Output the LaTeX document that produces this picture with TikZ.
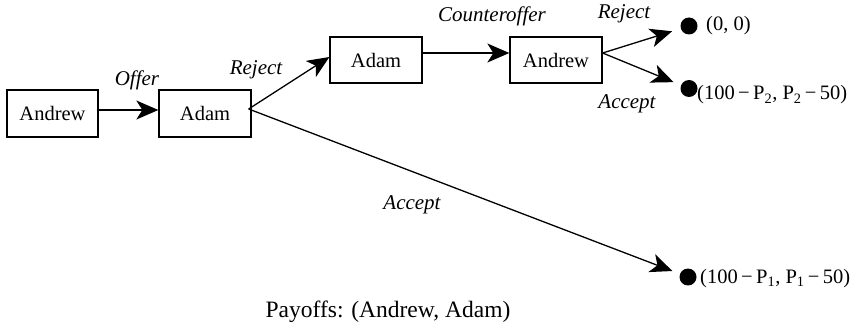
\documentclass[tikz,border=0pt]{standalone}
\usepackage{fontspec}
\setmainfont{Liberation Serif}
\usetikzlibrary{arrows.meta}
\begin{document}
\begin{tikzpicture}[x=1pt,y=-1pt,
  font=\fontsize{20.5}{24}\selectfont,
  player/.style={draw,line width=1.3pt,inner sep=0pt,minimum width=92pt,minimum height=47pt},
  leaf/.style={circle,fill=black,inner sep=0pt,minimum size=17pt},
  move/.style={font=\fontsize{21}{24}\selectfont\itshape,anchor=base},
  arr/.style={line width=1.3pt,-{Stealth[length=22pt,width=19pt,inset=6pt]}},
  payoff/.style={anchor=base west,inner sep=0pt}]
\useasboundingbox (0,0) rectangle (852,326);

% decision nodes
\node[player,minimum width=91pt] (andrewA) at (52.5,113.5) {Andrew};
\node[player] (adamA) at (205,113.5) {Adam};
\node[player,minimum height=46pt] (adamB) at (376,60) {Adam};
\node[player,minimum height=46pt] (andrewB) at (556,60) {Andrew};

% terminal nodes
\node[leaf] (endA) at (689,26) {};
\node[leaf] (endB) at (689,88.5) {};
\node[leaf] (endC) at (688,277) {};

% branch starting points
\coordinate (fromAdamA) at ([xshift=-3pt,yshift=4.5pt]adamA.east);
\coordinate (fromAndrewB) at ([yshift=7pt]andrewB.east);

% moves
\draw[arr] ([xshift=-2pt,yshift=3.5pt]andrewA.east) -- ([yshift=3.5pt]adamA.west);
\draw[arr] (fromAdamA) -- ([yshift=3pt]adamB.west);
\draw[arr] ([yshift=7pt]adamB.east) -- ([yshift=7pt]andrewB.west);
\draw[arr,shorten >=8pt] (fromAdamA) -- (endC);
\draw[arr,shorten >=9pt] (fromAndrewB) -- (endA);
\draw[arr,shorten >=8pt] (fromAndrewB) -- (endB);

% move labels
\node[move] (lOffer) at (137,86) {Offer};
\node[move] (lRejectA) at (256,75) {Reject};
\node[move] (lCounter) at (492,22) {Counteroffer};
\node[move] (lRejectB) at (624,19) {Reject};
\node[move] (lAcceptB) at (627,109) {Accept};
\node[move] (lAcceptA) at (412,209) {Accept};

% payoffs
\node[payoff] (pA) at (706,31) {(0, 0)};
\node[payoff] (pB) at (697,100) {(100\,−\,P\textsubscript{2}, P\textsubscript{2}\,−\,50)};
\node[payoff] (pC) at (700,283) {(100\,−\,P\textsubscript{1}, P\textsubscript{1}\,−\,50)};
\node[anchor=base,font=\fontsize{23.5}{28}\selectfont] (caption) at (388,317) {Payoffs: (Andrew, Adam)};
\end{tikzpicture}
\end{document}
